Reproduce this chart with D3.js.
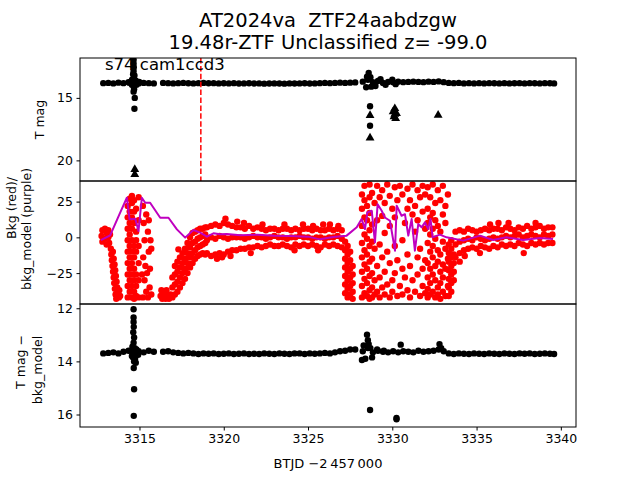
<!DOCTYPE html>
<html><head><meta charset="utf-8">
<script src="https://cdn.jsdelivr.net/npm/d3@7"></script>
<style>body{margin:0;background:#fff} text{font-family:"DejaVu Sans",sans-serif;fill:#000}</style>
</head><body><svg id="c" width="640" height="480"></svg>
<script>
// ---------------- DATA ----------------
const titleLines = ["AT2024va  ZTF24aabdzgw", "19.48r-ZTF Unclassified z= -99.0"];
const sectorLabel = "s74 cam1ccd3";
const xTicks = [3315, 3320, 3325, 3330, 3335, 3340];
const topTicks = [15, 20];
const midTicks = [25, 0, -25];
const botTicks = [12, 14, 16];
const markerTime = 3318.64;

// light-curve cadence (days, BTJD-2457000)
const lcTime = [3312.85,3313.15,3313.45,3313.75,3314.05,3314.35,3314.65,3314.95,3315.25,3315.55,3315.85,
 3316.4,3316.7,3317.0,3317.3,3317.6,3317.9,3318.2,3318.5,3318.8,3319.1,3319.4,3319.7,3320.0,3320.3,3320.6,3320.9,3321.2,3321.5,3321.8,3322.1,3322.4,3322.7,3323.0,3323.3,3323.6,3323.9,3324.2,3324.5,3324.8,3325.1,3325.4,3325.7,3326.0,3326.3,3326.6,3326.9,3327.2,3327.5,3327.8,
 3328.25,3328.55,3328.85,3329.15,3329.45,3329.75,3330.05,3330.35,3330.65,3330.95,3331.25,3331.55,3331.85,3332.15,3332.45,3332.75,3333.05,3333.35,3333.65,3333.95,3334.25,3334.55,3334.85,3335.15,3335.45,3335.75,3336.05,3336.35,3336.65,3336.95,3337.25,3337.55,3337.85,3338.15,3338.45,3338.75,3339.05,3339.35,3339.6];
const tmag = [13.82,13.80,13.84,13.78,13.82,13.75,13.80,13.84,13.80,13.82,13.84,
 13.80,13.82,13.84,13.82,13.80,13.83,13.84,13.82,13.80,13.83,13.82,13.84,13.83,13.84,13.82,13.85,13.84,13.83,13.85,13.84,13.86,13.85,13.84,13.85,13.86,13.84,13.85,13.84,13.83,13.85,13.84,13.82,13.80,13.82,13.80,13.78,13.80,13.78,13.76,
 13.70,13.55,13.75,13.65,13.80,13.72,13.75,13.70,13.74,13.72,13.70,13.72,13.74,13.70,13.72,13.68,13.74,13.80,13.82,13.80,13.84,13.82,13.84,13.82,13.84,13.82,13.83,13.84,13.82,13.84,13.83,13.82,13.84,13.82,13.83,13.84,13.82,13.83,13.84];
const tmagDiff = [13.70,13.68,13.66,13.70,13.64,13.60,13.70,13.62,13.66,13.60,13.64,
 13.64,13.62,13.66,13.68,13.70,13.68,13.70,13.72,13.70,13.71,13.70,13.72,13.71,13.70,13.72,13.71,13.70,13.72,13.71,13.72,13.70,13.71,13.72,13.70,13.71,13.72,13.70,13.70,13.72,13.70,13.71,13.70,13.68,13.70,13.66,13.62,13.60,13.55,13.55,
 13.62,13.50,13.66,13.60,13.64,13.66,13.62,13.66,13.62,13.64,13.66,13.60,13.64,13.62,13.60,13.55,13.62,13.70,13.72,13.70,13.71,13.72,13.70,13.71,13.72,13.70,13.71,13.72,13.70,13.71,13.72,13.70,13.71,13.70,13.72,13.71,13.70,13.71,13.72];

// outlying T mag points [time, mag]
const tmagExtra = [[3314.65,11.95],[3314.65,12.25],[3314.66,12.55],[3314.65,12.85],[3314.62,13.1],[3314.7,13.2],[3314.65,13.45],[3314.56,13.55],[3314.76,13.6],[3314.48,13.7],[3314.86,13.7],[3314.4,13.78],[3314.98,13.72],[3314.55,13.95],[3314.82,13.95],[3314.66,14.1],[3314.68,14.3],[3314.65,14.5],[3314.72,15.0],[3314.70,15.87],
 [3328.6,13.0],[3328.5,13.3],[3328.7,13.35],[3328.45,14.15],[3328.75,14.1],[3329.0,14.05],[3329.3,13.5],[3329.6,13.95],[3330.0,13.55],[3330.2,13.9],[3328.68,15.67],[3328.68,17.23]];
// upper limits [time, mag]
const tmagLimits = [[3314.72,20.72],[3314.72,21.12],[3328.68,16.4],[3328.68,18.2],[3330.05,16.1],[3330.15,15.85],[3330.25,16.25],[3330.1,16.5],[3330.2,16.65],[3330.15,16.3],[3332.72,16.38]];
const tmagDiffExtra = [[3314.65,12.04],[3314.65,12.35],[3314.65,12.52],[3314.66,12.7],[3314.63,12.9],[3314.68,13.1],[3314.65,13.3],[3314.58,13.45],[3314.72,13.5],[3314.5,13.6],[3314.82,13.55],[3314.62,13.85],[3314.68,14.0],[3314.66,14.25],[3314.74,13.9],[3314.55,13.8],[3314.92,13.75],[3314.78,14.05],[3314.68,15.05],[3314.66,16.05],
 [3328.3,13.4],[3328.5,13.0],[3328.55,13.2],[3328.4,13.9],[3328.2,13.95],[3328.7,13.5],[3328.8,13.85],[3328.6,13.35],[3329.1,13.55],[3329.5,13.6],[3330.5,13.37],[3328.68,15.83],[3330.25,16.13],[3330.25,16.18],[3332.8,13.35],[3332.9,13.5]];

// background (red) : [time, [values at that time]]
const bkgStart = [[3312.75,[1]],[3312.8,[5,-3]],[3312.95,[6,-1]],[3313.05,[3,-5]],[3313.15,[5,0]],[3313.2,[-4]],[3313.25,[2]]];
const bkgDip1 = [[3313.3,[-8]],[3313.33,[-12]],[3313.36,[-16]],[3313.4,[-20]],[3313.43,[-24]],[3313.47,[-28]],[3313.5,[-32]],[3313.54,[-36]],[3313.58,[-40]],[3313.62,[-43]],
 [3313.42,[-10]],[3313.47,[-15]],[3313.52,[-19]],[3313.56,[-23]],[3313.6,[-27]],[3313.64,[-31]],[3313.68,[-35]],[3313.72,[-39]],[3313.78,[-42]],[3313.85,[-41]],[3313.8,[-37]]];
const bkgFlare = [[3314.3,[22,14,6,-2,-10,-18,-26,-34,-42]],[3314.42,[27,18,10,2,-6,-14,-22,-30,-38]],[3314.55,[29,24,14,6,-2,-10,-18,-26,-34,-42]],
 [3314.68,[26,18,10,-6,-14,-22,-30,-38,-43]],[3314.8,[20,4,-2,-10,-26,-34,-41]],[3314.95,[28,12,-6,-18,-30,-42]],
 [3315.15,[-26]],[3315.2,[22,-42]],[3315.22,[-14]],[3315.25,[10]],[3315.3,[-2,-30]],[3315.35,[-20]],[3315.4,[16,-38]],[3315.45,[-25]],[3315.5,[4,-42]],[3315.55,[12,-10]],[3315.6,[-35]],[3315.62,[-22]],[3315.65,[-2]],[3315.7,[-8,-40]]];
const bkgRise = [[3316.25,[-41]],[3316.3,[-37]],[3316.35,[-43]],[3316.45,[-40]],[3316.55,[-43]],[3316.6,[-37]],[3316.65,[-41]],[3316.75,[-43]],[3316.85,[-40]],
 [3316.95,[-42,-35,-28]],[3317.1,[-40,-33,-26,-20]],[3317.25,[-38,-31,-24,-17]],[3317.31,[-8.4]],[3317.4,[-35,-28,-21,-14]],[3317.55,[-32,-25,-18,-11]],
 [3317.7,[-29,-22,-15,-8]],[3317.85,[-25,-18,-11,-4]],[3318.0,[-21,-14,-7,0]],[3318.15,[-18,-11,-4,3]],[3318.3,[-15,-9,-3,4]],[3318.45,[-13,-7,-1,5]],
 [3318.6,[-12,-6,0,6]],[3318.75,[-11,-5,1,6]],[3318.9,[-12,-4,2,7]]];
const bkgFlat1 = [[3319.0,[7,-2,-11]],[3319.25,[8,0,-13]],[3319.5,[9,-1,-12]],[3319.75,[8,1,-11]],[3320.0,[10,0,-12]],[3320.25,[9,-1,-10]],[3320.5,[8,0,-9]],[3320.75,[7,0,-9]],
 [3321.0,[7,0,-8]],[3321.25,[6,-1,-8]],[3321.5,[8,0,-7]],[3321.75,[6,1,-7]],[3322.0,[7,0,-6]],[3322.25,[6,0,-7]],[3322.5,[5,-1,-6]],[3322.75,[6,0,-5]],
 [3323.0,[6,1,-6]],[3323.25,[5,0,-6]],[3323.5,[6,0,-5]],[3323.75,[6,-1,-6]],[3324.0,[5,0,-7]],[3324.25,[6,0,-5]],[3324.5,[5,1,-6]],[3324.75,[6,0,-5]],
 [3325.0,[6,0,-6]],[3325.25,[5,-1,-5]],[3325.5,[6,0,-6]],[3325.75,[5,0,-7]],[3326.0,[5,-1,-5]],[3326.25,[6,0,-6]],[3326.5,[5,0,-5]],[3326.75,[6,1,-6]],[3327.0,[5,-1,-7]],
 [3319.6,[-15]],[3319.9,[-14]],[3320.1,[13]],[3320.4,[-13]],[3320.8,[11]],[3321.2,[10]],[3321.6,[-11]],[3322.3,[9]],[3323.6,[9]],[3324.2,[-9]],[3324.7,[9]],[3325.3,[8]],[3325.6,[-9]],[3325.9,[9]],[3326.3,[9]],[3326.8,[8]]];
const bkgDip2 = [[3327.2,[-3,-9,-15,-21,-27,-33,-39]],[3327.35,[-6,-12,-18,-24,-30,-36,-42]],[3327.5,[-10,-16,-22,-28,-34,-40]],[3327.65,[-20,-26,-32,-38,-43]]];
const bkgStorm = [[3328.2,[30,20,8,-4,-14,-24,-34,-42]],[3328.35,[36,26,14,2,-9,-19,-29,-39]],[3328.5,[22,12,-1,-12,-22,-32,-41]],
 [3328.65,[37,28,17,5,-6,-17,-27,-37,-43]],[3328.8,[31,9,-3,-15,-25,-35,-42]],[3328.95,[24,-8,-30,-40]],
 [3329.1,[36,12,-20,-38]],[3329.25,[28,-5,-28,-42]],[3329.4,[33,15,-14,-35]],[3329.55,[24,3,-24,-40]],[3329.7,[37,-10,-33]],
 [3329.85,[29,8,-18,-42]],[3330.0,[20,-30,-38]],[3330.15,[35,14,-6,-25]],[3330.3,[26,-16,-41]],[3330.45,[36,-34]],[3330.6,[30,-2,-22,-40]],
 [3330.75,[10,-28]],[3330.9,[34,20,-12,-37]],[3331.05,[26,-20,-42]],[3331.2,[37,16,-30]],[3331.35,[22,4,-38]],[3331.5,[33,12,-14,-26]],
 [3331.65,[28,-8,-41]],[3331.8,[36,18,-22,-34]],[3331.95,[30,6,-16,-39]],
 [3332.1,[35,20,10,-4,-18,-28,-36,-42]],[3332.25,[28,14,2,-10,-22,-32,-40]],[3332.4,[37,17,6,-6,-14,-26,-38]],[3332.55,[24,12,-1,-20,-30,-42]],
 [3332.7,[33,8,-9,-17,-35,-40]],[3332.85,[26,4,-12,-24,-32,-43]],[3333.0,[36,16,-3,-19,-28,-38]],[3333.15,[22,10,-8,-22,-41]],[3333.3,[30,-15,-34]]];
const bkgRecover = [[3333.35,[-41,-35,-29,-23,-17,-11,-5]],[3333.5,[-38,-32,-26,-20,-14,-8,-2]],[3333.65,[-30,-24,-18,-12]]];
const bkgFlat2 = [[3333.75,[4,-5,-14]],[3334.0,[5,-3,-11]],[3334.25,[4,-2,-9]],[3334.5,[6,-1,-8]],[3334.75,[5,-2,-7]],[3335.0,[4,0,-8]],[3335.25,[5,-1,-6]],[3335.5,[6,-2,-7]],
 [3335.75,[5,-1,-8]],[3336.0,[6,0,-6]],[3336.25,[6,-1,-7]],[3336.5,[5,0,-5]],[3336.75,[7,1,-6]],[3337.0,[6,0,-5]],[3337.25,[5,1,-6]],[3337.5,[7,2,-4]],
 [3337.75,[6,0,-5]],[3338.0,[8,1,-6]],[3338.25,[6,2,-4]],[3338.5,[7,1,-5]],[3338.75,[8,0,-4]],[3339.0,[6,2,-5]],[3339.25,[7,1,-4]],[3339.5,[7,2,-4]],
 [3334.0,[-17]],[3334.3,[-13]],[3335.2,[-11]],[3335.8,[9]],[3336.3,[10]],[3336.9,[10]],[3337.8,[-11]],[3338.5,[10]]];

// background model (purple line)
const bkgModelT = [3312.71,3313.26,3313.86,3314.25,3314.41,3314.75,3314.94,3315.14,3315.34,3315.63,3316.23,3316.72,3317.22,3317.71,3318.20,3318.60,3319.00,3319.39,3319.78,3320.18,3321.0,3322.0,3323.0,3324.0,3325.0,3325.7,3326.5,3327.29,3327.89,3328.18,3328.38,3328.52,3328.78,3328.97,3329.13,3329.37,3329.56,3329.86,3330.16,3330.26,3330.55,3330.75,3330.95,3331.15,3331.34,3331.54,3331.74,3331.94,3332.13,3332.27,3332.39,3332.82,3333.22,3334.21,3335.20,3335.98,3336.78,3337.76,3338.75,3339.54];
const bkgModelV = [-1.9,1.4,17.4,27.7,12.6,13.0,4.4,27.7,24.2,24.2,13.7,13.7,5.6,-0.2,5.1,3.3,0.5,2.8,2.1,2.3,1.5,1.8,1.2,1.0,0.5,-1.4,0.3,1.2,7.0,12.8,5.8,17.4,18.6,-3.5,23.2,18.6,13.9,11.6,-9.3,22.1,15.1,16.2,1.2,12.8,-9.3,9.3,7.0,10.5,5.8,12.8,0,1.9,0,-2.3,1.2,-1.9,0,-1.9,-0.5,-1.2];

// ---------------- DRAW ----------------
const svg = d3.select("#c");
const L = 80, R = 576, P0 = 58, P1 = 181, P2 = 304, P3 = 427;
const x = d3.scaleLinear().domain([3311.47, 3340.9]).range([L, R]);
const yTop = d3.scaleLinear().domain([11.81, 21.65]).range([P0, P1]);
const yMid = d3.scaleLinear().domain([39.4, -46.6]).range([P1, P2]);
const yBot = d3.scaleLinear().domain([11.84, 16.47]).range([P2, P3]);
const RAD = 3.2;

const defs = svg.append("defs");
[["cTop", P0, P1], ["cMid", P1, P2], ["cBot", P2, P3]].forEach(([id, a, b]) => {
  defs.append("clipPath").attr("id", id).append("rect").attr("x", L).attr("y", a).attr("width", R - L).attr("height", b - a);
});

function flat(groups) { const out = []; groups.forEach(([t, vs]) => vs.forEach(v => out.push([t, v]))); return out; }

// top panel
const gTop = svg.append("g").attr("clip-path", "url(#cTop)");
const topPts = lcTime.map((t, i) => [t, tmag[i]]).concat(tmagExtra);
gTop.selectAll("circle").data(topPts).join("circle")
  .attr("cx", d => x(d[0])).attr("cy", d => yTop(d[1])).attr("r", RAD).attr("fill", "#000");
gTop.selectAll("path.lim").data(tmagLimits).join("path").attr("class", "lim")
  .attr("d", d3.symbol(d3.symbolTriangle, 34))
  .attr("transform", d => `translate(${x(d[0])},${yTop(d[1])})`).attr("fill", "#000");
gTop.append("line").attr("x1", x(markerTime)).attr("x2", x(markerTime)).attr("y1", P0).attr("y2", P1)
  .attr("stroke", "#ff0000").attr("stroke-width", 1.5).attr("stroke-dasharray", "5.5,2.4");

// middle panel
const gMid = svg.append("g").attr("clip-path", "url(#cMid)");
const redPts = flat([].concat(bkgStart, bkgDip1, bkgFlare, bkgRise, bkgFlat1, bkgDip2, bkgStorm, bkgRecover, bkgFlat2));
gMid.selectAll("circle").data(redPts).join("circle")
  .attr("cx", d => x(d[0])).attr("cy", d => yMid(d[1])).attr("r", RAD).attr("fill", "#ff0000");
gMid.append("path").datum(bkgModelT.map((t, i) => [t, bkgModelV[i]]))
  .attr("d", d3.line().x(d => x(d[0])).y(d => yMid(d[1])))
  .attr("fill", "none").attr("stroke", "#bf00bf").attr("stroke-width", 2).attr("stroke-linejoin", "round");

// bottom panel
const gBot = svg.append("g").attr("clip-path", "url(#cBot)");
const botPts = lcTime.map((t, i) => [t, tmagDiff[i]]).concat(tmagDiffExtra);
gBot.selectAll("circle").data(botPts).join("circle")
  .attr("cx", d => x(d[0])).attr("cy", d => yBot(d[1])).attr("r", RAD).attr("fill", "#000");

// axes
function styleAxis(g) {
  g.select(".domain").remove();
  g.selectAll(".tick line").attr("stroke", "#000").attr("stroke-width", 1);
  g.selectAll(".tick text").attr("font-size", "12.5px").attr("font-family", "DejaVu Sans").attr("fill", "#000");
}
const fmt = d3.format("d");
svg.append("g").attr("transform", `translate(${L},0)`)
  .call(d3.axisLeft(yTop).tickValues(topTicks).tickFormat(fmt).tickSize(3.5).tickPadding(3.5)).call(styleAxis);
svg.append("g").attr("transform", `translate(${L},0)`)
  .call(d3.axisLeft(yMid).tickValues(midTicks).tickFormat(fmt).tickSize(3.5).tickPadding(3.5)).call(styleAxis);
svg.append("g").attr("transform", `translate(${L},0)`)
  .call(d3.axisLeft(yBot).tickValues(botTicks).tickFormat(fmt).tickSize(3.5).tickPadding(3.5)).call(styleAxis);
svg.append("g").attr("transform", `translate(0,${P3})`)
  .call(d3.axisBottom(x).tickValues(xTicks).tickFormat(fmt).tickSize(3.5).tickPadding(3.5)).call(styleAxis);

// spines
[[P0, P1], [P1, P2], [P2, P3]].forEach(([a, b]) => {
  svg.append("rect").attr("x", L).attr("y", a).attr("width", R - L).attr("height", b - a)
    .attr("fill", "none").attr("stroke", "#000").attr("stroke-width", 1);
});

// texts
svg.append("text").attr("x", 328).attr("y", 27).attr("text-anchor", "middle").attr("font-size", "19.5px")
  .style("white-space", "pre").text(titleLines[0]);
svg.append("text").attr("x", 328).attr("y", 48.5).attr("text-anchor", "middle").attr("font-size", "19.5px")
  .style("white-space", "pre").text(titleLines[1]);
svg.append("text").attr("x", 105).attr("y", 70).attr("font-size", "16.5px").text(sectorLabel);
svg.append("text").attr("x", 328).attr("y", 467.5).attr("text-anchor", "middle").attr("font-size", "13px")
  .text("BTJD \u22122\u2009457\u2009000");

function yLabel(txt, cx, cy) {
  svg.append("text").attr("transform", `translate(${cx},${cy}) rotate(-90)`).attr("text-anchor", "middle")
    .attr("font-size", "12.5px").text(txt);
}
yLabel("T mag", 44, 119.5);
yLabel("Bkg (red)/", 16, 208);
yLabel("bkg_model (purple)", 30.5, 229);
yLabel("T mag \u2212", 25, 362);
yLabel("bkg_model", 42, 370);
</script></body></html>
